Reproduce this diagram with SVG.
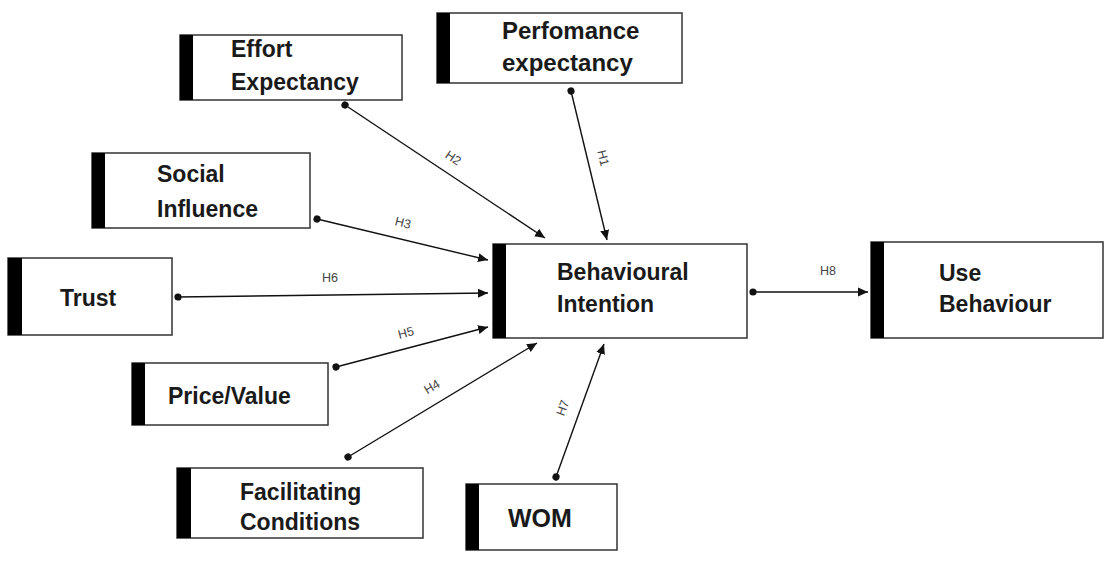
<svg xmlns="http://www.w3.org/2000/svg" width="1113" height="563" viewBox="0 0 1113 563">
<defs>
<style>
.box{fill:#fff;stroke:#333;stroke-width:1.5}
.bar{fill:#000}
.t{font-family:"Liberation Sans",Arial,sans-serif;font-weight:bold;font-size:23px;fill:#1a1a1a}
.c{stroke:#111;stroke-width:1.4;fill:none;marker-start:url(#dot);marker-end:url(#arr)}
.l{font-family:"Liberation Sans",Arial,sans-serif;font-size:12.5px;fill:#444;text-anchor:middle;dominant-baseline:central}
</style>
<marker id="arr" markerUnits="userSpaceOnUse" markerWidth="11" markerHeight="10" refX="10" refY="5" orient="auto">
<path d="M0,0.5 L10,5 L0,9.5 z" fill="#111"/>
</marker>
<marker id="dot" markerUnits="userSpaceOnUse" markerWidth="9" markerHeight="9" refX="4.5" refY="4.5" orient="auto">
<circle cx="4.5" cy="4.5" r="3.6" fill="#111"/>
</marker>
</defs>
<rect width="1113" height="563" fill="#fff"/>
<g id="effort">
<rect class="box" x="180" y="35" width="222" height="65"/>
<rect class="bar" x="180" y="35" width="13" height="65"/>
<text class="t" x="231" y="57">Effort</text>
<text class="t" x="231" y="90">Expectancy</text>
</g>
<g id="performance">
<rect class="box" x="437" y="13" width="245" height="70"/>
<rect class="bar" x="437" y="13" width="13" height="70"/>
<text class="t" x="502" y="39" style="font-size:24px">Perfomance</text>
<text class="t" x="502" y="71" style="font-size:24px">expectancy</text>
</g>
<g id="social">
<rect class="box" x="92" y="153" width="218" height="75"/>
<rect class="bar" x="92" y="153" width="13" height="75"/>
<text class="t" x="157" y="182">Social</text>
<text class="t" x="157" y="217">Influence</text>
</g>
<g id="trust">
<rect class="box" x="8" y="258" width="164" height="77"/>
<rect class="bar" x="8" y="258" width="14" height="77"/>
<text class="t" x="60" y="306">Trust</text>
</g>
<g id="intention">
<rect class="box" x="493" y="244" width="254" height="94"/>
<rect class="bar" x="493" y="244" width="13" height="94"/>
<text class="t" x="557" y="280">Behavioural</text>
<text class="t" x="557" y="312">Intention</text>
</g>
<g id="use">
<rect class="box" x="871" y="242" width="232" height="96"/>
<rect class="bar" x="871" y="242" width="13" height="96"/>
<text class="t" x="939" y="281">Use</text>
<text class="t" x="939" y="312">Behaviour</text>
</g>
<g id="price">
<rect class="box" x="132" y="363" width="196" height="62"/>
<rect class="bar" x="132" y="363" width="13" height="62"/>
<text class="t" x="168" y="404">Price/Value</text>
</g>
<g id="facilitating">
<rect class="box" x="177" y="468" width="246" height="70"/>
<rect class="bar" x="177" y="468" width="14" height="70"/>
<text class="t" x="240" y="500">Facilitating</text>
<text class="t" x="240" y="530">Conditions</text>
</g>
<g id="wom">
<rect class="box" x="466" y="484" width="151" height="66"/>
<rect class="bar" x="466" y="484" width="13" height="66"/>
<text class="t" x="508" y="527" style="font-size:25px">WOM</text>
</g>
<g id="connectors">
<line class="c" x1="571" y1="91" x2="607" y2="240"/>
<line class="c" x1="345" y1="105" x2="545" y2="238"/>
<line class="c" x1="317" y1="219" x2="488" y2="260"/>
<line class="c" x1="178" y1="297" x2="488" y2="293"/>
<line class="c" x1="336" y1="367" x2="488" y2="327"/>
<line class="c" x1="348" y1="457" x2="537" y2="343"/>
<line class="c" x1="556" y1="477" x2="604" y2="344"/>
<line class="c" x1="753" y1="292" x2="868" y2="292"/>
<text class="l" transform="translate(603,158) rotate(76)">H1</text>
<text class="l" transform="translate(453,158) rotate(33.6)">H2</text>
<text class="l" transform="translate(403,223) rotate(13.5)">H3</text>
<text class="l" transform="translate(330,278)">H6</text>
<text class="l" transform="translate(406,333) rotate(-14.7)">H5</text>
<text class="l" transform="translate(432,387) rotate(-31)">H4</text>
<text class="l" transform="translate(563,408) rotate(-70)">H7</text>
<text class="l" transform="translate(828,271)">H8</text>
</g>
</svg>
